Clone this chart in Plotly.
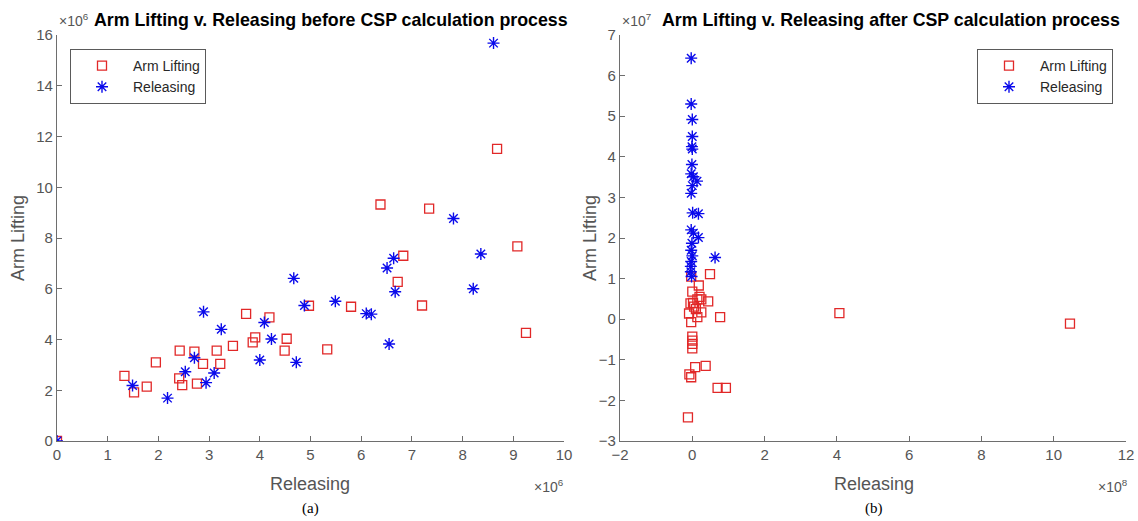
import plotly.graph_objects as go

# ---------------- data (left: units of 1e6; right: x in 1e8, y in 1e7) ----------------
before_arm_x = [0.0, 1.33, 1.52, 1.77, 1.95, 2.42, 2.41, 2.47, 2.71, 2.88, 2.76, 3.15, 3.22, 3.47,
                3.73, 3.86, 3.91, 4.19, 4.53, 4.49, 4.97, 5.33, 8.68, 6.38, 7.34, 9.08, 6.83,
                6.72, 5.80, 7.20, 9.25]
before_arm_y = [0.0, 2.57, 1.92, 2.14, 3.10, 3.56, 2.47, 2.20, 3.52, 3.04, 2.26, 3.56, 3.04, 3.75,
                5.01, 3.89, 4.08, 4.87, 4.03, 3.56, 5.33, 3.61, 11.51, 9.32, 9.16, 7.67, 7.30,
                6.27, 5.29, 5.34, 4.26]
before_rel_x = [0.0, 1.49, 2.18, 2.53, 2.71, 2.89, 2.94, 3.10, 3.24, 4.00, 4.09, 4.23, 4.67, 4.72,
                4.88, 8.61, 7.82, 8.36, 6.64, 6.51, 6.67, 8.21, 5.49, 6.10, 6.20, 6.55]
before_rel_y = [0.0, 2.19, 1.69, 2.73, 3.28, 5.09, 2.30, 2.68, 4.40, 3.19, 4.67, 4.02, 6.41, 3.10,
                5.34, 15.68, 8.77, 7.37, 7.20, 6.82, 5.88, 6.00, 5.51, 5.02, 5.00, 3.82]

after_arm_x = [0.49, -0.03, 0.18, 0.0, 0.20, 0.14, 0.25, 0.44, -0.05, 0.05, 0.25, -0.09, 0.14,
               0.77, -0.03, 0.0, 0.0, 0.0, 0.0, 0.08, 0.37, -0.08, -0.03, 0.70, 0.93, -0.12,
               4.07, 10.45, 0.10, 0.02]
after_arm_y = [1.11, 1.05, 0.83, 0.68, 0.55, 0.49, 0.49, 0.44, 0.39, 0.31, 0.17, 0.14, 0.05,
               0.05, -0.07, -0.43, -0.53, -0.61, -0.72, -1.18, -1.15, -1.36, -1.43, -1.69, -1.69,
               -2.42, 0.15, -0.11, 0.25, 0.40]
after_rel_x = [-0.03, -0.03, 0.0, 0.0, -0.01, 0.0, -0.01, -0.03, 0.03, 0.13, 0.0, -0.03, 0.01,
               0.17, -0.03, 0.03, 0.17, -0.01, -0.03, 0.0, 0.63, -0.03, -0.04, -0.04, -0.02]
after_rel_y = [6.43, 5.30, 4.92, 4.50, 4.25, 4.19, 3.81, 3.58, 3.51, 3.40, 3.29, 3.10, 2.62,
               2.60, 2.20, 2.12, 2.01, 1.87, 1.70, 1.56, 1.52, 1.42, 1.30, 1.17, 1.05]

left_xticks = list(range(0, 11))
left_yticks = list(range(0, 17, 2))
right_xticks = list(range(-2, 13, 2))
right_yticks = list(range(-3, 8))

W, H = 1138, 521
def px(x): return x / W
def py(y): return 1 - y / H

RED = "rgb(225,40,40)"
BLUE = "rgb(10,10,235)"
GRAY = "rgb(85,85,85)"
AXC = "rgb(110,110,110)"
FONT = "Liberation Sans, Arial, sans-serif"

sq = dict(symbol="square-open", size=9, color=RED, line=dict(width=1.3, color=RED))
ast = dict(symbol="asterisk-open", size=10, color=BLUE, line=dict(width=1.4, color=BLUE))

fig = go.Figure()
fig.add_trace(go.Scatter(x=before_arm_x, y=before_arm_y, mode="markers", name="Arm Lifting",
                         marker=sq, xaxis="x", yaxis="y", legend="legend"))
fig.add_trace(go.Scatter(x=before_rel_x, y=before_rel_y, mode="markers", name="Releasing",
                         marker=ast, xaxis="x", yaxis="y", legend="legend"))
fig.add_trace(go.Scatter(x=after_arm_x, y=after_arm_y, mode="markers", name="Arm Lifting",
                         marker=sq, xaxis="x2", yaxis="y2", legend="legend2"))
fig.add_trace(go.Scatter(x=after_rel_x, y=after_rel_y, mode="markers", name="Releasing",
                         marker=ast, xaxis="x2", yaxis="y2", legend="legend2"))

axcommon = dict(showgrid=False, zeroline=False, showline=True, linecolor=AXC, linewidth=1.2,
                ticks="inside", ticklen=5, tickcolor=AXC, mirror=False, automargin=False,
                tickfont=dict(family=FONT, size=15, color=GRAY))

ydom = [py(441), py(35)]
legfont = dict(family=FONT, size=14, color="rgb(40,40,40)")
fig.update_layout(
    width=W, height=H, margin=dict(l=0, r=0, t=0, b=0),
    paper_bgcolor="white", plot_bgcolor="white",
    font=dict(family=FONT, color=GRAY),
    xaxis=dict(domain=[px(57), px(564)], range=[0, 10], tickvals=left_xticks, anchor="y", **axcommon),
    yaxis=dict(domain=ydom, range=[0, 16], tickvals=left_yticks, anchor="x", **axcommon),
    xaxis2=dict(domain=[px(620), px(1126)], range=[-2, 12], tickvals=right_xticks, anchor="y2", **axcommon),
    yaxis2=dict(domain=ydom, range=[-3, 7], tickvals=right_yticks, anchor="x2", **axcommon),
    legend=dict(x=px(70), y=py(49), xanchor="left", yanchor="top", bordercolor="rgb(90,90,90)",
                borderwidth=1, bgcolor="white", font=legfont, tracegroupgap=0, itemwidth=52),
    legend2=dict(x=px(977), y=py(49), xanchor="left", yanchor="top", bordercolor="rgb(90,90,90)",
                 borderwidth=1, bgcolor="white", font=legfont, tracegroupgap=0, itemwidth=52),
)

ann = []
def A(x, y, text, size=14, color=GRAY, family=FONT, xanchor="center", angle=0, bold=False):
    if bold:
        text = "<b>" + text + "</b>"
    ann.append(dict(x=px(x), y=py(y), xref="paper", yref="paper", text=text, showarrow=False,
                    xanchor=xanchor, yanchor="middle", textangle=angle,
                    font=dict(family=family, size=size, color=color)))

# titles
A(92, 20, "Arm Lifting v. Releasing before CSP calculation process", size=17.8, color="black", xanchor="left", bold=True)
A(57, 20, "×10<sup>6</sup>", size=14, xanchor="left")
A(660, 20, "Arm Lifting v. Releasing after CSP calculation process", size=17.8, color="black", xanchor="left", bold=True)
A(620, 20, "×10<sup>7</sup>", size=14, xanchor="left")
# axis titles
A(310, 484, "Releasing", size=18)
A(874, 484, "Releasing", size=18)
A(18, 238, "Arm Lifting", size=18, angle=-90)
A(590, 238, "Arm Lifting", size=18, angle=-90)
A(566, 486, "×10<sup>6</sup>", size=14, xanchor="right")
A(1130, 486, "×10<sup>8</sup>", size=14, xanchor="right")
# captions
A(310, 508, "(a)", size=15, color="black", family="Liberation Serif, Times New Roman, serif")
A(874, 508, "(b)", size=15, color="black", family="Liberation Serif, Times New Roman, serif")

fig.update_layout(annotations=ann)
fig.write_html("out.html", config={"displayModeBar": False},
               post_script="document.body.style.margin='0';document.body.style.overflow='hidden';")
